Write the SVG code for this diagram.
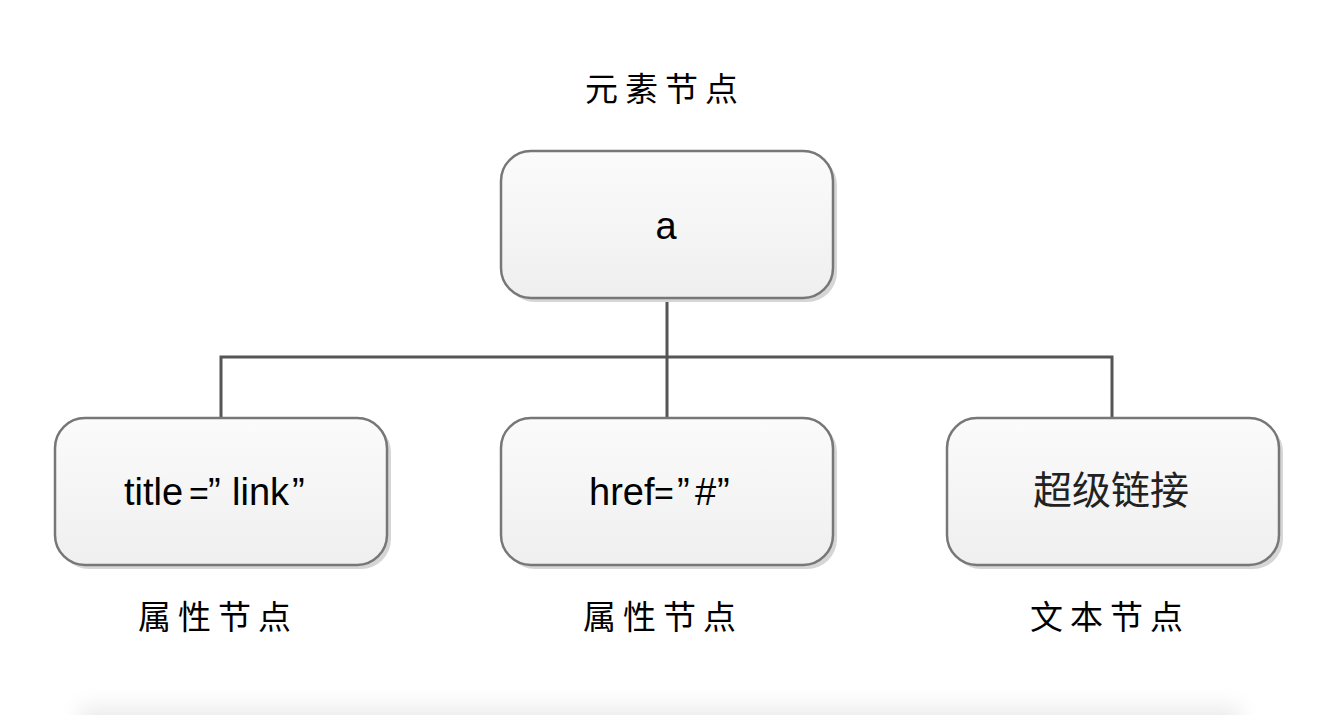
<svg xmlns="http://www.w3.org/2000/svg" width="1343" height="715" viewBox="0 0 1343 715">
<defs>
<linearGradient id="g" x1="0" y1="0" x2="0" y2="1">
<stop offset="0" stop-color="#fbfbfb"/>
<stop offset="1" stop-color="#efefef"/>
</linearGradient>
<filter id="blur" x="-10%" y="-100%" width="120%" height="300%">
<feGaussianBlur stdDeviation="10"/>
</filter>
</defs>
<style>
.sh{fill:#d6d6d6}
.box{fill:url(#g);stroke:#777;stroke-width:2.5}
.lbl{font-family:"Noto Sans CJK SC","Noto Sans CJK JP",sans-serif;font-size:33px;letter-spacing:7px;fill:#000;text-anchor:middle}
.t{font-family:"Liberation Sans",Arial,"Noto Sans CJK SC",sans-serif;font-size:38px;fill:#000}
.q{font-family:"Liberation Sans",Arial,sans-serif;font-size:34px;font-weight:300}
.cjk{font-family:"Noto Sans CJK SC",sans-serif;font-size:39px;fill:#222;text-anchor:middle}
.conn{fill:none;stroke:#555;stroke-width:3}
</style>
<rect width="1343" height="715" fill="#fff"/>
<rect x="80" y="706" width="1160" height="40" fill="#ececec" filter="url(#blur)"/>
<g id="connectors">
<path class="conn" d="M667 298V357M221 418V357H1112V418M667 357V418"/>
</g>
<g id="node-a">
<rect class="sh" x="505" y="155" width="332" height="147" rx="30"/>
<rect class="box" x="501" y="151" width="332" height="147" rx="30"/>
<text class="t" x="666" y="239" text-anchor="middle">a</text>
</g>
<g id="label-element">
<text class="lbl" x="665" y="101">元素节点</text>
</g>
<g id="node-title">
<rect class="sh" x="59" y="422" width="332" height="147" rx="30"/>
<rect class="box" x="55" y="418" width="332" height="147" rx="30"/>
<text class="t" y="505"><tspan x="124">title</tspan><tspan class="q" x="189">=</tspan><tspan x="208">”</tspan><tspan x="232">link</tspan><tspan x="292">”</tspan></text>
</g>
<g id="node-href">
<rect class="sh" x="505" y="422" width="332" height="147" rx="30"/>
<rect class="box" x="501" y="418" width="332" height="147" rx="30"/>
<text class="t" y="505"><tspan x="589">href</tspan><tspan class="q" x="654">=</tspan><tspan x="677">”</tspan><tspan x="695">#</tspan><tspan x="717">”</tspan></text>
</g>
<g id="node-text">
<rect class="sh" x="951" y="422" width="332" height="147" rx="30"/>
<rect class="box" x="947" y="418" width="332" height="147" rx="30"/>
<text class="cjk" x="1111" y="504">超级链接</text>
</g>
<g id="label-attr1">
<text class="lbl" x="218" y="629">属性节点</text>
</g>
<g id="label-attr2">
<text class="lbl" x="663" y="629">属性节点</text>
</g>
<g id="label-textnode">
<text class="lbl" x="1110" y="629">文本节点</text>
</g>
</svg>
